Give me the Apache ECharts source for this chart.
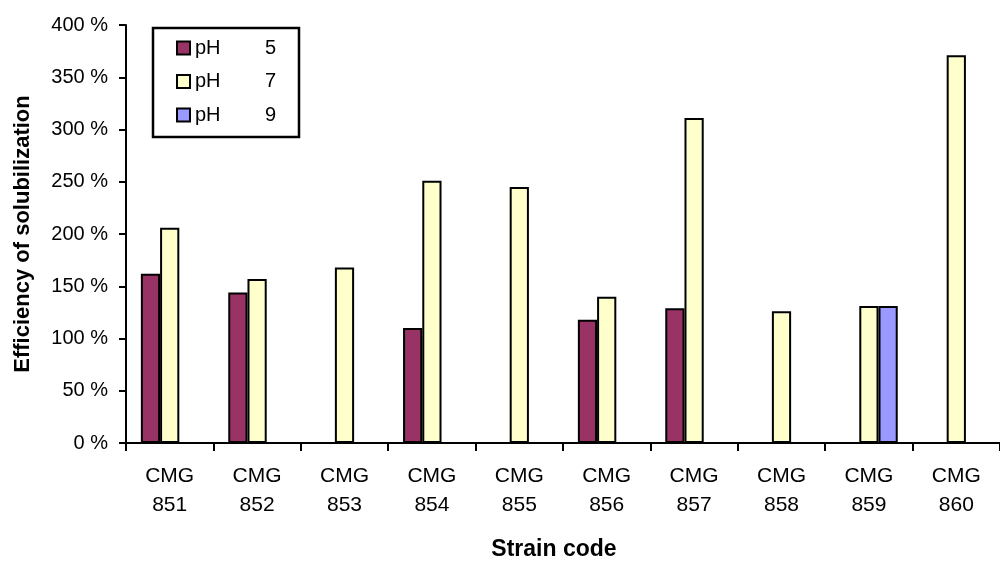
<!DOCTYPE html>
<html>
<head>
<meta charset="utf-8">
<script src="https://cdn.jsdelivr.net/npm/echarts@6/dist/echarts.min.js"></script>
<style>html,body{margin:0;padding:0;background:#fff;overflow:hidden}#c{width:1000px;height:566px}</style>
</head>
<body>
<div id="c"></div>
<script>
const categories = ['CMG\n851','CMG\n852','CMG\n853','CMG\n854','CMG\n855','CMG\n856','CMG\n857','CMG\n858','CMG\n859','CMG\n860'];
const ph5 = [162, 144, null, 110, null, 118, 129, null, null, null];
const ph7 = [206, 157, 168, 251, 245, 140, 311, 126, 131, 371];
const ph9 = [null, null, null, null, null, null, null, null, 131, null];
const seriesNames = ['pH5', 'pH7', 'pH9'];
const seriesNums = ['5', '7', '9'];
const colors = ['#993366', '#FFFFCC', '#9999FF'];

const font = '"Liberation Sans", Arial, sans-serif';
const chart = echarts.init(document.getElementById('c'), null, {renderer: 'canvas'});
const data = [ph5, ph7, ph9];
chart.setOption({
  animation: false,
  backgroundColor: '#ffffff',
  grid: {left: 126, right: 0, top: 25, bottom: 117, containLabel: false},
  legend: {
    orient: 'vertical', left: 153, top: 28,
    padding: [10, 23, 12, 23],
    borderColor: '#000', borderWidth: 2.5,
    itemWidth: 13, itemHeight: 13, itemGap: 13.5,
    icon: 'rect',
    data: seriesNames,
    formatter: function (name) { const i = seriesNames.indexOf(name); return '{a|pH}{b|' + seriesNums[i] + '}'; },
    textStyle: {
      fontFamily: font, fontSize: 20, color: '#000', lineHeight: 20,
      rich: {a: {fontFamily: font, fontSize: 20, width: 61, lineHeight: 20}, b: {fontFamily: font, fontSize: 20, width: 20, align: 'right', lineHeight: 20}}
    }
  },
  xAxis: {
    type: 'category', data: categories,
    name: 'Strain code', nameLocation: 'middle', nameGap: 95,
    nameTextStyle: {fontFamily: font, fontSize: 23, fontWeight: 'bold', color: '#000', padding: [0, 18, 0, 0]},
    axisLine: {lineStyle: {color: '#000', width: 2}},
    axisTick: {show: true, length: 8, lineStyle: {color: '#000', width: 2}},
    axisLabel: {fontFamily: font, fontSize: 21, color: '#000', margin: 19, lineHeight: 29}
  },
  yAxis: {
    type: 'value', min: 0, max: 400, interval: 50,
    name: 'Efficiency of solubilization', nameLocation: 'middle', nameGap: 92,
    nameTextStyle: {fontFamily: font, fontSize: 22, fontWeight: 'bold', color: '#000'},
    splitLine: {show: false},
    axisLine: {show: true, lineStyle: {color: '#000', width: 2}},
    axisTick: {show: true, length: 7, lineStyle: {color: '#000', width: 2}},
    axisLabel: {fontFamily: font, fontSize: 20, color: '#000', margin: 18, formatter: '{value} %'}
  },
  series: seriesNames.map((n, i) => ({
    name: n, type: 'bar', data: data[i],
    barGap: '0%', barCategoryGap: '34%',
    itemStyle: {color: colors[i], borderColor: '#000', borderWidth: 2}
  }))
});
</script>
</body>
</html>
